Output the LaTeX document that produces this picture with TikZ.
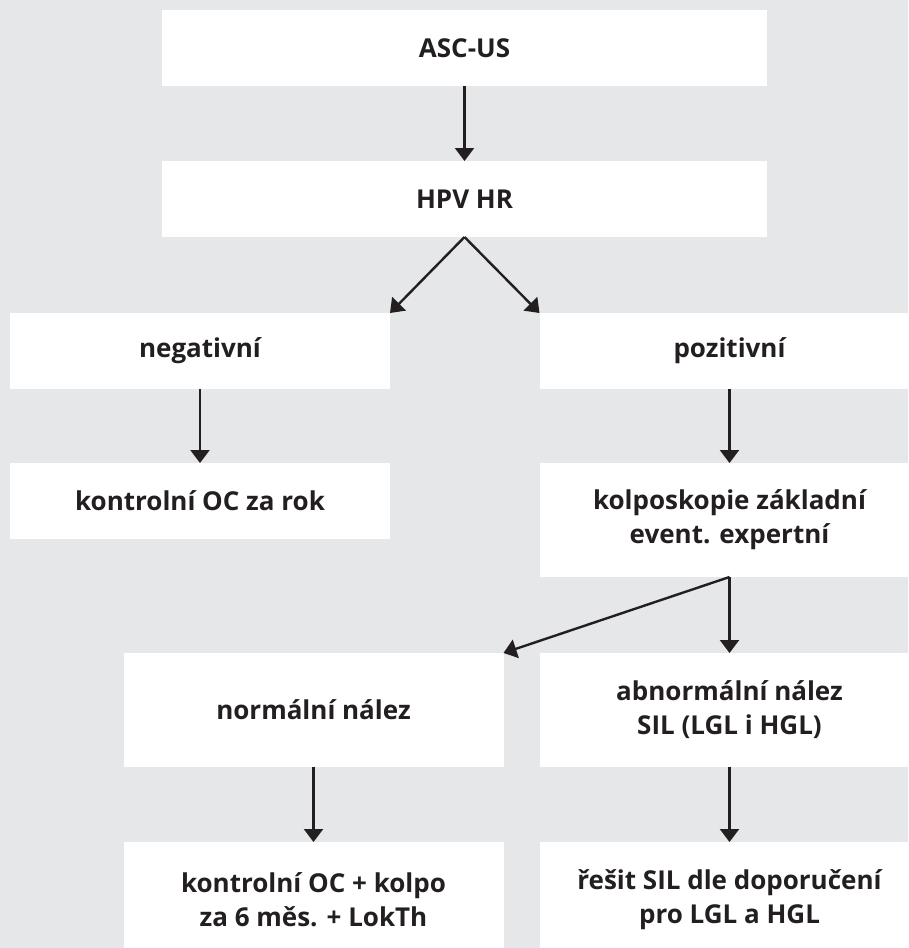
\documentclass[tikz,border=0pt]{standalone}
\usepackage{fontspec}
\setmainfont{Open Sans}
\usetikzlibrary{arrows.meta}
\definecolor{bgcol}{HTML}{E6E7E8}
\definecolor{ink}{HTML}{231F20}
\begin{document}
\begin{tikzpicture}[x=1pt,y=-1pt,
  box/.style={fill=white, draw=none, inner sep=0pt, outer sep=0pt,
    align=center, text=ink,
    font=\bfseries\fontsize{26}{34}\selectfont},
  wide/.style={box, minimum width=605pt, minimum height=76pt},
  side/.style={box, minimum width=380pt, minimum height=76pt},
  tall/.style={box, minimum width=380pt, minimum height=114pt},
  last/.style={box, minimum width=380pt, minimum height=116pt},
  link/.style={draw=ink, line width=2.4pt, -{Triangle[width=19pt,length=13pt]}}]
  % page and background
  \fill[bgcol] (0,0) rectangle (908,948);
  \useasboundingbox (0,0) rectangle (908,948);

  % boxes
  \node[wide] (asc) at (464.5,48) {ASC-US};
  \node[wide] (hpv) at (464.5,199) {HPV HR};
  \node[side] (neg) at (200,351) {negativní};
  \node[side] (poz) at (729.5,351) {pozitivní};
  \node[side] (kon) at (200,501) {kontrolní OC za rok};
  \node[tall] (kol) at (729.5,520) {kolposkopie základní\\event. expertní};
  \node[tall] (nor) at (313.5,710) {normální nález};
  \node[tall] (abn) at (729.5,710) {abnormální nález\\SIL (LGL i HGL)};
  \node[last] (kk) at (313.5,900) {kontrolní OC + kolpo\\za 6 měs. + LokTh};
  \node[last] (res) at (729.5,900) {řešit SIL dle doporučení\\pro LGL a HGL};

  % connectors
  \draw[link] (asc.south) -- (hpv.north);
  \draw[link] (hpv.south) -- (neg.north east);
  \draw[link] (hpv.south) -- (poz.north west);
  \draw[link] (neg.south) -- (kon.north);
  \draw[link] (poz.south) -- (kol.north);
  \draw[link] (kol.south) -- (nor.north east);
  \draw[link] (kol.south) -- (abn.north);
  \draw[link] (nor.south) -- (kk.north);
  \draw[link] (abn.south) -- (res.north);
\end{tikzpicture}
\end{document}
